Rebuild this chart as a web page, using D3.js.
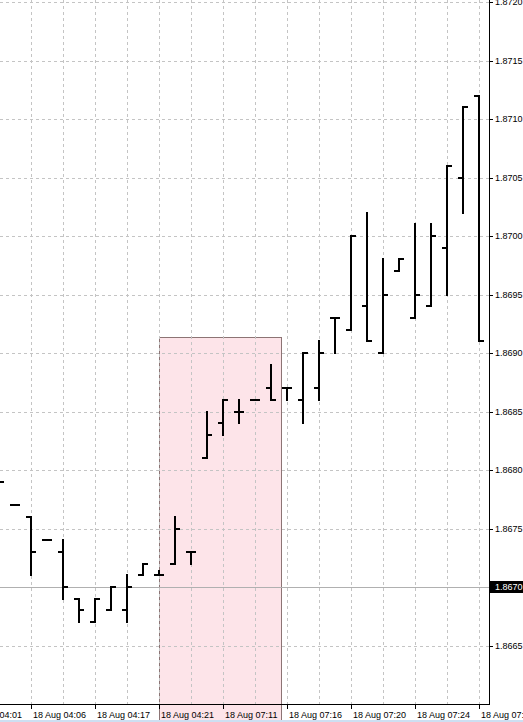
<!DOCTYPE html>
<html>
<head>
<meta charset="utf-8">
<script src="https://cdn.jsdelivr.net/npm/d3@7"></script>
<style>
body { margin: 0; background: #fff; overflow: hidden; }
svg { display: block; font-family: "Liberation Sans", Arial, sans-serif; font-size: 9px; }
</style>
</head>
<body>
<svg width="523" height="722"></svg>
<script>
// OHLC bars, one per slot (first one is cut off at the left edge)
var opens  = [1.8679, 1.8677, 1.8676, 1.8674, 1.8673, 1.8669, 1.8667, 1.8668, 1.8668, 1.8671, 1.8671,
              1.8672, 1.8673, 1.8681, 1.8684, 1.8685, 1.8686, 1.8687, 1.8687, 1.8686, 1.8687,
              1.8693, 1.8692, 1.8694, 1.8690, 1.8697, 1.8693, 1.8694, 1.8699, 1.8705, 1.8712];
var highs  = [1.8679, 1.8677, 1.8676, 1.8674, 1.8674, 1.8669, 1.8669, 1.8670, 1.8671, 1.8672, 1.86714,
              1.8676, 1.8673, 1.8685, 1.8686, 1.8686, 1.8686, 1.8689, 1.8687, 1.8690, 1.8691,
              1.8693, 1.8700, 1.8702, 1.8698, 1.8698, 1.8701, 1.8701, 1.8706, 1.8711, 1.8712];
var lows   = [1.8679, 1.8677, 1.8671, 1.8674, 1.8669, 1.8667, 1.8667, 1.8668, 1.8667, 1.8671, 1.8671,
              1.8672, 1.8672, 1.8681, 1.8683, 1.8684, 1.8686, 1.8686, 1.8686, 1.8684, 1.8686,
              1.8690, 1.8692, 1.8691, 1.8690, 1.8697, 1.8693, 1.8694, 1.8695, 1.8702, 1.8691];
var closes = [1.8679, 1.8677, 1.8673, 1.8674, 1.8670, 1.8668, 1.8669, 1.8670, 1.8670, 1.8672, 1.8671,
              1.8675, 1.8673, 1.8683, 1.8686, 1.8685, 1.8686, 1.8686, 1.8687, 1.8690, 1.8690,
              1.8693, 1.8700, 1.8691, 1.8695, 1.8698, 1.8695, 1.8700, 1.8706, 1.8711, 1.8691];

// time labels and the bar slot they sit on
var timeSlots  = [-2, 2, 6, 10, 14, 18, 22, 26, 30];
var timeLabels = ["18 Aug 04:01", "18 Aug 04:06", "18 Aug 04:17", "18 Aug 04:21", "18 Aug 07:11",
                  "18 Aug 07:16", "18 Aug 07:20", "18 Aug 07:24", "18 Aug 07:28"];

var priceTicks = [1.8665, 1.8670, 1.8675, 1.8680, 1.8685, 1.8690, 1.8695,
                  1.8700, 1.8705, 1.8710, 1.8715, 1.8720];
var markPrice = 1.8670;

// rectangle object: from slot to slot, top price
var boxFrom = 10, boxTo = 17.625, boxTop = 1.86914;

var svg = d3.select("svg");
var W = 523, H = 722;
var plotRight = 489, plotBottom = 704;

var x = d3.scaleLinear().domain([0, 30]).range([-1, 479]);
var y = d3.scaleLinear().domain([1.8660, 1.8720]).range([704, 2]);
var ry = function(v) { return Math.round(y(v)); };

svg.append("rect").attr("width", W).attr("height", H).attr("fill", "#fff");

// rectangle object (drawn as background)
svg.append("rect")
    .attr("x", Math.round(x(boxFrom)) + 0.5)
    .attr("y", ry(boxTop) + 0.5)
    .attr("width", Math.round(x(boxTo)) - Math.round(x(boxFrom)))
    .attr("height", 720 - ry(boxTop))
    .attr("fill", "#fde4e9")
    .attr("stroke", "#8c7474")
    .attr("stroke-width", 1);

// grid
var grid = svg.append("g").attr("stroke", "#c4c4c4").attr("stroke-dasharray", "3,3");
grid.selectAll("line.h").data(priceTicks.filter(function(p) { return p !== markPrice; }))
  .enter().append("line")
    .attr("x1", 0).attr("x2", plotRight)
    .attr("y1", function(d) { return ry(d) + 0.5; })
    .attr("y2", function(d) { return ry(d) + 0.5; });
grid.selectAll("line.v").data(d3.range(0, 31, 2))
  .enter().append("line")
    .attr("x1", function(d) { return Math.round(x(d)) + 0.5; })
    .attr("x2", function(d) { return Math.round(x(d)) + 0.5; })
    .attr("y1", 0).attr("y2", plotBottom);

// price line
svg.append("line")
    .attr("x1", 0).attr("x2", plotRight)
    .attr("y1", ry(markPrice) + 0.5).attr("y2", ry(markPrice) + 0.5)
    .attr("stroke", "#b0b0b0");

// bars
var bars = svg.append("g").attr("stroke", "#000").attr("stroke-width", 2);
var idx = d3.range(opens.length);
bars.selectAll("g").data(idx).enter().append("g")
  .each(function(i) {
    var g = d3.select(this), cx = Math.round(x(i));
    g.append("line").attr("x1", cx).attr("x2", cx)
        .attr("y1", ry(highs[i]) - 1).attr("y2", ry(lows[i]) + 1);
    g.append("line").attr("x1", cx - 5).attr("x2", cx)
        .attr("y1", ry(opens[i])).attr("y2", ry(opens[i]));
    g.append("line").attr("x1", cx).attr("x2", cx + 5)
        .attr("y1", ry(closes[i])).attr("y2", ry(closes[i]));
  });

// axes frame
svg.append("line").attr("x1", plotRight + 0.5).attr("x2", plotRight + 0.5)
    .attr("y1", 0).attr("y2", plotBottom + 1).attr("stroke", "#000");
svg.append("line").attr("x1", 0).attr("x2", plotRight + 1)
    .attr("y1", plotBottom + 0.5).attr("y2", plotBottom + 0.5).attr("stroke", "#000");

// price axis
var pa = svg.append("g");
pa.selectAll("line").data(priceTicks).enter().append("line")
    .attr("x1", plotRight).attr("x2", plotRight + 4)
    .attr("y1", function(d) { return ry(d) + 0.5; })
    .attr("y2", function(d) { return ry(d) + 0.5; })
    .attr("stroke", "#000");
pa.selectAll("text").data(priceTicks.filter(function(p) { return p !== markPrice; }))
  .enter().append("text")
    .attr("x", plotRight + 6)
    .attr("y", function(d) { return ry(d); })
    .attr("dy", "0.35em")
    .attr("fill", "#000")
    .text(function(d) { return d.toFixed(4); });

// marked price label
svg.append("rect").attr("x", plotRight + 1).attr("y", ry(markPrice) - 6)
    .attr("width", W - plotRight).attr("height", 12).attr("fill", "#000");
svg.append("text").attr("x", plotRight + 6).attr("y", ry(markPrice))
    .attr("dy", "0.35em").attr("fill", "#fff").text(markPrice.toFixed(4));

// time axis
var ta = svg.append("g");
ta.selectAll("line").data(timeSlots).enter().append("line")
    .attr("x1", function(d) { return Math.round(x(d)) + 0.5; })
    .attr("x2", function(d) { return Math.round(x(d)) + 0.5; })
    .attr("y1", plotBottom).attr("y2", plotBottom + 5)
    .attr("stroke", "#000");
ta.selectAll("text").data(timeSlots).enter().append("text")
    .attr("x", function(d) { return Math.round(x(d)) + 2; })
    .attr("y", 718)
    .attr("fill", "#000")
    .text(function(d, i) { return timeLabels[i]; });

// window edge strip
svg.append("rect").attr("x", 0).attr("y", 720).attr("width", W).attr("height", 2).attr("fill", "#cddff2");
</script>
</body>
</html>
